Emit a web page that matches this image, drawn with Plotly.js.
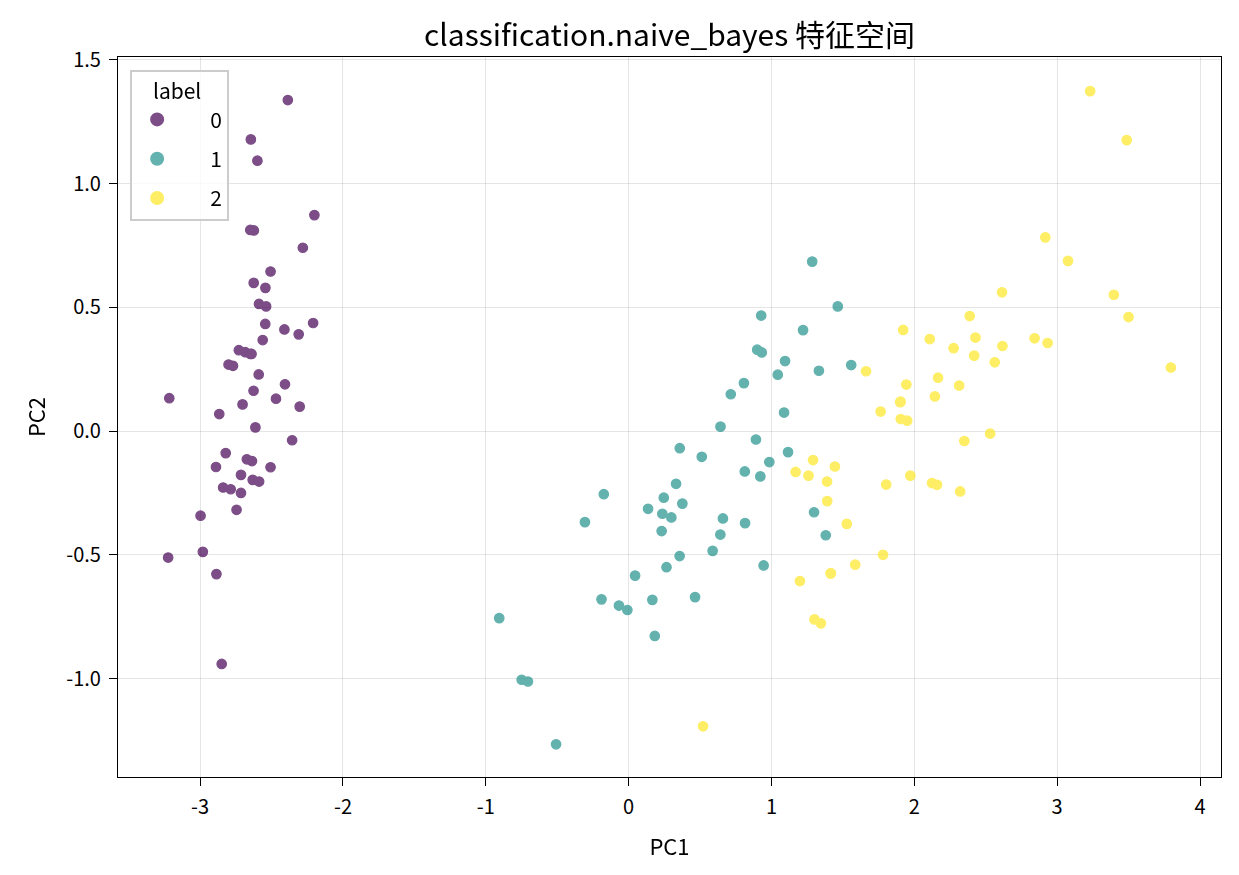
<!DOCTYPE html>
<html><head><meta charset="utf-8">
<script src="https://cdn.plot.ly/plotly-3.0.1.min.js"></script>
<style>html,body{margin:0;padding:0;background:#fff}#c{width:1239px;height:875px}</style>
</head><body><div id="c"></div>
<script>
const pc1_0=[-2.684,-2.714,-2.889,-2.745,-2.729,-2.281,-2.821,-2.626,-2.886,-2.673,-2.507,-2.613,-2.786,-3.224,-2.645,-2.386,-2.624,-2.648,-2.200,-2.588,-2.310,-2.544,-3.216,-2.303,-2.356,-2.507,-2.469,-2.562,-2.640,-2.632,-2.587,-2.410,-2.649,-2.599,-2.637,-2.866,-2.625,-2.801,-2.981,-2.590,-2.770,-2.849,-2.997,-2.406,-2.209,-2.714,-2.538,-2.839,-2.543,-2.703];
const pc2_0=[0.319,-0.177,-0.145,-0.318,0.327,0.741,-0.089,0.163,-0.578,-0.114,0.645,0.015,-0.235,-0.511,1.179,1.338,0.811,0.312,0.873,0.514,0.391,0.433,0.133,0.099,-0.037,-0.146,0.131,0.368,0.312,-0.197,-0.204,0.411,0.813,1.093,-0.121,0.069,0.599,0.269,-0.488,0.229,0.264,-0.941,-0.342,0.189,0.437,-0.250,0.504,-0.228,0.579,0.108];
const pc1_1=[1.285,0.932,1.464,0.183,1.088,0.642,1.095,-0.749,1.044,-0.009,-0.508,0.512,0.265,0.985,-0.174,0.928,0.660,0.236,0.945,0.045,1.116,0.358,1.298,0.922,0.715,0.900,1.332,1.558,0.813,-0.306,-0.068,-0.190,0.136,1.380,0.588,0.807,1.221,0.815,0.246,0.166,0.465,0.891,0.231,-0.705,0.357,0.332,0.376,0.643,-0.906,0.299];
const pc2_1=[0.685,0.318,0.504,-0.828,0.075,-0.418,0.283,-1.005,0.228,-0.723,-1.266,-0.104,-0.550,-0.125,-0.255,0.467,-0.353,-0.334,-0.543,-0.584,-0.085,-0.069,-0.328,-0.183,0.149,0.329,0.244,0.267,-0.163,-0.368,-0.705,-0.680,-0.314,-0.421,-0.484,0.194,0.408,-0.372,-0.269,-0.682,-0.671,-0.034,-0.404,-1.012,-0.505,-0.213,-0.293,0.018,-0.756,-0.349];
const pc1_2=[2.531,1.415,2.617,1.972,2.350,3.397,0.521,2.933,2.321,2.917,1.662,1.803,2.166,1.346,1.586,1.904,1.950,3.487,3.796,1.301,2.428,1.199,3.500,1.389,2.275,2.614,1.259,1.291,2.124,2.388,2.842,3.231,2.159,1.444,1.781,3.076,2.144,1.905,1.169,2.108,2.314,1.922,1.415,2.563,2.419,1.944,1.527,1.764,1.901,1.390];
const pc2_2=[-0.010,-0.575,0.344,-0.180,-0.040,0.551,-1.193,0.356,-0.244,0.783,0.242,-0.216,0.216,-0.777,-0.540,0.119,0.042,1.176,0.257,-0.761,0.378,-0.606,0.461,-0.204,0.335,0.561,-0.180,-0.117,-0.210,0.465,0.375,1.374,-0.217,-0.143,-0.500,0.688,0.140,0.049,-0.165,0.372,0.184,0.409,-0.575,0.278,0.305,0.188,-0.375,0.079,0.117,-0.283];
const labels=['0','1','2'];
const colors=['#440154','#21918c','#fde725'];
const xTicks=[-3,-2,-1,0,1,2,3,4];
const xTickText=['-3','-2','-1','0','1','2','3','4'];
const yTicks=[-1.0,-0.5,0.0,0.5,1.0,1.5];
const yTickText=['-1.0','-0.5','0.0','0.5','1.0','1.5'];

const xs=[pc1_0,pc1_1,pc1_2], ys=[pc2_0,pc2_1,pc2_2];
const font="'Noto Sans CJK SC','Noto Sans',sans-serif";
const NB='\u00a0';
const traces=labels.map((l,i)=>({
  type:'scatter',mode:'markers',name:NB.repeat(6)+l,x:xs[i],y:ys[i],legendgroup:'g'+i,
  opacity:0.7,
  marker:{color:colors[i],size:9.5,line:{color:colors[i],width:1.2}}
}));
const axBase={showline:true,linecolor:'#000',linewidth:1.2,mirror:true,ticks:'outside',ticklen:8,tickwidth:1.2,tickcolor:'#000',
  ticklabelstandoff:4,
  showgrid:true,gridcolor:'rgba(0,0,0,0.1)',gridwidth:1,zeroline:false,tickfont:{size:20,color:'#000',family:font}};
const layout={
  width:1239,height:875,paper_bgcolor:'#fff',plot_bgcolor:'#fff',
  margin:{l:118,r:18,t:57,b:98},
  font:{family:font,color:'#000'},
  title:{text:'classification.naive_bayes 特征空间',font:{size:30,family:font,color:'#000'},xref:'paper',x:0.5,xanchor:'center',yref:'container',y:0.96,yanchor:'middle'},
  xaxis:Object.assign({},axBase,{range:[-3.575,4.147],tickvals:xTicks,ticktext:xTickText,title:{text:'PC1',font:{size:22,family:font},standoff:20}}),
  yaxis:Object.assign({},axBase,{range:[-1.398,1.512],tickvals:yTicks,ticktext:yTickText,title:{text:'PC2',font:{size:22,family:font},standoff:14}}),
  showlegend:true,
  legend:{x:0.011,y:0.982,xanchor:'left',yanchor:'top',bgcolor:'rgba(255,255,255,0.8)',bordercolor:'#ccc',borderwidth:2,
    title:{text:NB.repeat(4)+'label',font:{size:21,family:font}},font:{size:21,family:font},itemsizing:'constant',
    traceorder:'grouped',tracegroupgap:9,itemwidth:40}
};
Plotly.newPlot('c',traces,layout,{displayModeBar:false});
</script></body></html>
